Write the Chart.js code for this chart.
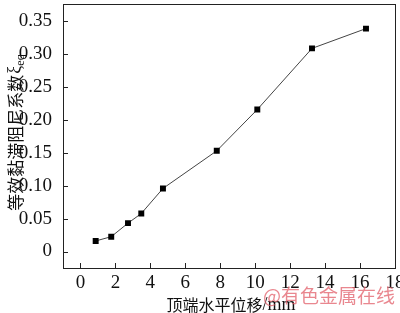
<!DOCTYPE html>
<html>
<head>
<meta charset="utf-8">
<script src="https://cdn.jsdelivr.net/npm/chart.js@4/dist/chart.umd.min.js"></script>
<style>
  html, body { margin: 0; padding: 0; background: #fff; }
  #wrap { width: 400px; height: 313px; position: relative; }
</style>
</head>
<body>
<div id="wrap"><canvas id="c"></canvas></div>
<script>
// displacement at top (mm) vs equivalent viscous damping ratio
const dispMm = [0.87, 1.76, 2.72, 3.48, 4.72, 7.8, 10.12, 13.25, 16.34];
const damping = [0.016, 0.0225, 0.043, 0.0576, 0.0956, 0.1527, 0.2153, 0.308, 0.338];

const xTicks = [0, 2, 4, 6, 8, 10, 12, 14, 16, 18];
const yTicks = [0, 0.05, 0.10, 0.15, 0.20, 0.25, 0.30, 0.35];
const yTickLabels = ['0', '0.05', '0.10', '0.15', '0.20', '0.25', '0.30', '0.35'];

const SERIF = '"Liberation Serif", "Times New Roman", serif';
const CJK = '"Noto Sans CJK SC", sans-serif';
const INK = '#222';

// box, inward ticks, axis titles, watermark
const decor = {
  id: 'decor',
  afterDraw(chart) {
    const { ctx, chartArea: a, scales: { x, y } } = chart;
    ctx.save();
    ctx.strokeStyle = INK;
    ctx.lineWidth = 1;
    ctx.strokeRect(Math.round(a.left) + 0.5, Math.round(a.top) + 0.5,
      Math.round(a.right - a.left), Math.round(a.bottom - a.top));
    ctx.beginPath();
    for (const v of xTicks) {
      const px = Math.round(x.getPixelForValue(v)) + 0.5;
      ctx.moveTo(px, a.bottom);
      ctx.lineTo(px, a.bottom - 5);
    }
    for (const v of yTicks) {
      const py = Math.round(y.getPixelForValue(v)) + 0.5;
      ctx.moveTo(a.left, py);
      ctx.lineTo(a.left + 5, py);
    }
    ctx.stroke();

    // y title, rotated
    ctx.fillStyle = '#111';
    ctx.translate(16, 133);
    ctx.rotate(-Math.PI / 2);
    ctx.textBaseline = 'middle';
    const main = '等效黏滞阻尼系数';
    ctx.font = `17px ${CJK}`;
    const w1 = ctx.measureText(main).width;
    ctx.font = `18px ${SERIF}`;
    const w2 = ctx.measureText('ξ').width;
    ctx.font = `12px ${SERIF}`;
    const w3 = ctx.measureText('eq').width;
    let sx = -(w1 + w2 + w3) / 2;
    ctx.font = `17px ${CJK}`;
    ctx.fillText(main, sx, 0);
    sx += w1 + 1;
    ctx.font = `18px ${SERIF}`;
    ctx.fillText('ξ', sx, -1);
    sx += w2;
    ctx.font = `12px ${SERIF}`;
    ctx.fillText('eq', sx, 5);
    ctx.setTransform(1, 0, 0, 1, 0, 0);

    // x title
    ctx.textBaseline = 'middle';
    ctx.font = `16px ${CJK}`;
    const t1 = '顶端水平位移';
    const tw1 = ctx.measureText(t1).width;
    ctx.font = `18px ${SERIF}`;
    const tw2 = ctx.measureText('/mm').width;
    let tx = 231 - (tw1 + tw2) / 2;
    ctx.font = `16px ${CJK}`;
    ctx.fillText(t1, tx, 305);
    ctx.font = `18px ${SERIF}`;
    ctx.fillText('/mm', tx + tw1, 305);

    // watermark
    ctx.fillStyle = 'rgba(225, 95, 105, 0.75)';
    ctx.font = `19px ${CJK}`;
    ctx.fillText('@有色金属在线', 263, 296);
    ctx.restore();
  }
};

new Chart(document.getElementById('c'), {
  type: 'scatter',
  data: {
    datasets: [{
      data: dispMm.map((v, i) => ({ x: v, y: damping[i] })),
      showLine: true,
      borderColor: '#444',
      borderWidth: 1,
      pointStyle: 'rect',
      pointRadius: 4.2,
      pointBackgroundColor: '#000',
      pointBorderColor: '#000',
      pointBorderWidth: 0,
    }]
  },
  options: {
    responsive: true,
    maintainAspectRatio: false,
    animation: false,
    layout: { padding: { left: 0, right: 5, top: 1, bottom: 0 } },
    plugins: { legend: { display: false }, tooltip: { enabled: false } },
    scales: {
      x: {
        type: 'linear',
        min: -1, max: 18,
        afterBuildTicks: s => { s.ticks = xTicks.map(v => ({ value: v })); },
        afterFit: s => { s.height = 45; s.paddingLeft = 0; s.paddingRight = 0; },
        grid: { display: false },
        border: { display: false },
        ticks: { color: '#111', font: { family: SERIF, size: 19 }, padding: -4, maxRotation: 0, autoSkip: false },
      },
      y: {
        type: 'linear',
        min: -0.025, max: 0.375,
        afterBuildTicks: s => { s.ticks = yTicks.map(v => ({ value: v })); },
        afterFit: s => { s.width = 63; s.paddingTop = 0; s.paddingBottom = 0; },
        grid: { display: false },
        border: { display: false },
        ticks: {
          color: '#111', font: { family: SERIF, size: 19 }, padding: 3, autoSkip: false,
          callback: v => { const i = yTicks.findIndex(t => Math.abs(t - v) < 1e-9); return i >= 0 ? yTickLabels[i] : ''; }
        },
      }
    }
  },
  plugins: [decor]
});
</script>
</body>
</html>
